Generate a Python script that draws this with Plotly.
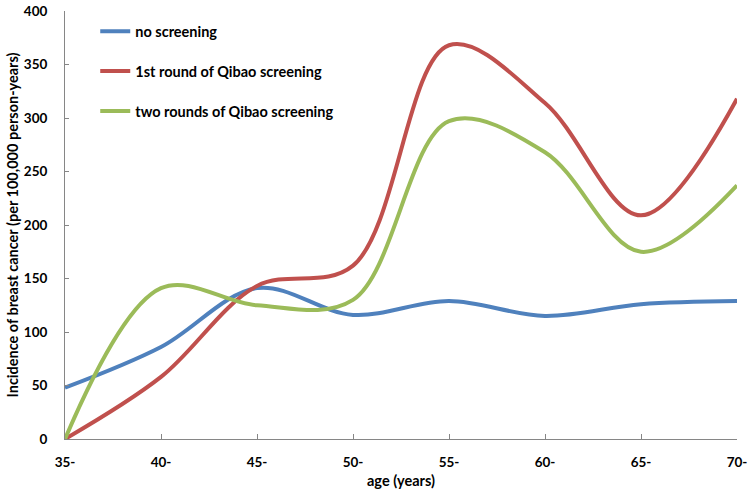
import plotly.graph_objects as go

ages = ["35-", "40-", "45-", "50-", "55-", "60-", "65-", "70-"]
no_screening = [48, 86, 141, 116, 129, 115, 126, 129]
first_round = [0, 58, 143, 162, 368, 314, 209, 318]
two_rounds = [0, 141, 125, 130, 297, 268, 175, 237]

series = [
    ("no screening", no_screening, "#4F81BD"),
    ("1st round of Qibao screening", first_round, "#C0504D"),
    ("two rounds of Qibao screening", two_rounds, "#9BBB59"),
]

font_family = "Lato, 'Open Sans', sans-serif"

fig = go.Figure()
for i, (name, vals, color) in enumerate(series):
    fig.add_trace(go.Scatter(
        x=ages, y=vals, name=name, mode="lines",
        line=dict(color=color, width=4, shape="spline", smoothing=1.0),
        legendgroup=f"g{i}",
    ))

fig.update_layout(
    width=750, height=495,
    margin=dict(l=65, r=13, t=11, b=56),
    plot_bgcolor="white", paper_bgcolor="white",
    font=dict(family=font_family, size=14, color="black", weight="bold"),
    showlegend=True,
    legend=dict(
        x=0.045, y=0.99, xanchor="left", yanchor="top",
        traceorder="grouped", tracegroupgap=18,
        font=dict(family=font_family, size=14.5, color="black", weight="bold"),
        bgcolor="rgba(0,0,0,0)", itemwidth=30,
    ),
    xaxis=dict(
        type="category",
        range=[0, len(ages) - 1],
        automargin=False,
        showline=True, linecolor="#868686", linewidth=1,
        ticks="inside", ticklen=5, tickcolor="#868686",
        ticklabelstandoff=11, ticklabeloverflow="allow",
        showgrid=False, zeroline=False,
        tickfont=dict(size=13.5, weight="bold"),
        title=dict(text="age (years)", font=dict(size=14.5, weight="bold"), standoff=6),
    ),
    yaxis=dict(
        range=[0, 400], dtick=50,
        automargin=False,
        showline=True, linecolor="#868686", linewidth=1,
        ticks="inside", ticklen=4, tickcolor="#868686",
        ticklabelstandoff=14, ticklabeloverflow="allow",
        showgrid=False, zeroline=False,
        tickfont=dict(size=13.5, weight="bold"),
        title=dict(text="Incidence of breast cancer (per 100,000 person-years)",
                   font=dict(size=14.5, weight="bold"), standoff=1),
    ),
)

# remove the browser's default 8px body margin so the figure sits at the page origin
fig.write_html("out.html", config={"displayModeBar": False},
               post_script="document.body.style.margin='0';")
